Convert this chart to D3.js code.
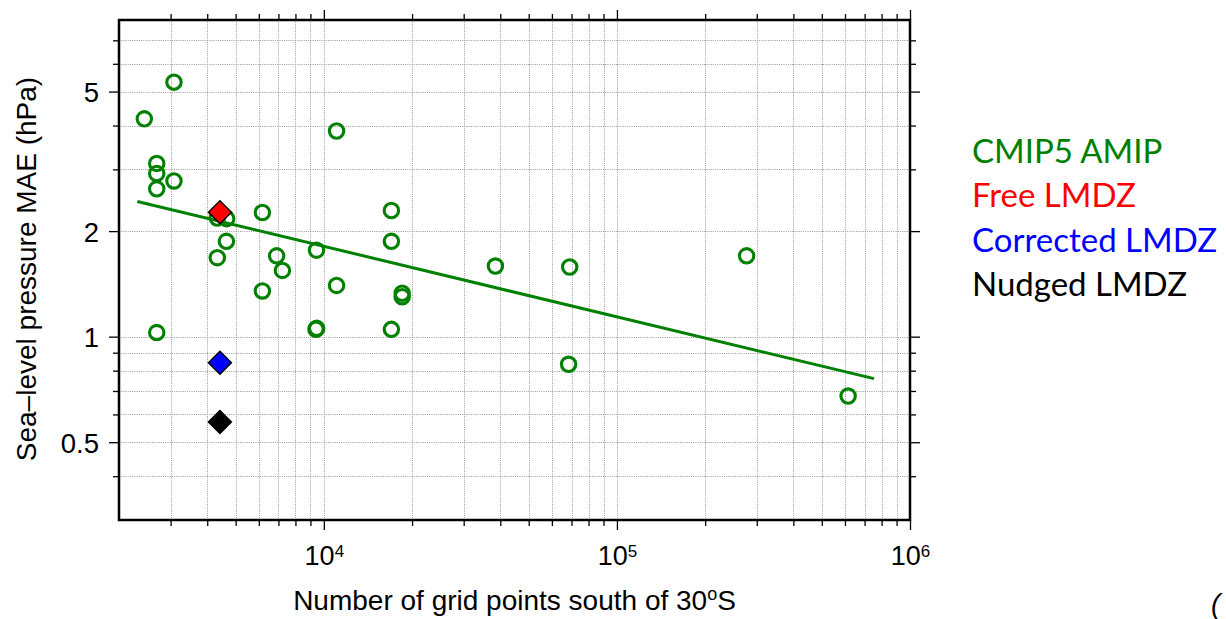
<!DOCTYPE html>
<html>
<head>
<meta charset="utf-8">
<script src="https://cdn.jsdelivr.net/npm/d3@7"></script>
<style>
  body { margin: 0; background: #fff; }
  svg { display: block; }
</style>
</head>
<body>
<script>
// CMIP5 AMIP models: grid points south of 30S vs sea-level pressure MAE
const cmipX = [3080, 2440, 2690, 2690, 2690, 3080, 4330, 4660, 4650, 4330,
               6170, 6900, 7220, 6170, 9440, 11050, 11050, 17000, 17000, 18500,
               18500, 2690, 9400, 9450, 17000, 38500, 69000, 277000, 68400, 615000];
const cmipY = [5.32, 4.18, 3.12, 2.92, 2.64, 2.78, 2.18, 2.17, 1.87, 1.68,
               2.26, 1.70, 1.545, 1.35, 1.765, 3.86, 1.40, 2.29, 1.87, 1.33,
               1.30, 1.027, 1.05, 1.056, 1.049, 1.59, 1.58, 1.70, 0.834, 0.677];

// LMDZ runs
const lmdzNames = ["Free LMDZ", "Corrected LMDZ", "Nudged LMDZ"];
const lmdzX = [4420, 4420, 4420];
const lmdzY = [2.265, 0.843, 0.571];

// fitted line end points
const fitX = [2310, 754000];
const fitY = [2.43, 0.759];

// axes
const xMajor = [1e4, 1e5, 1e6];
const xExp = [4, 5, 6];
const yMajor = [0.5, 1, 2, 5];
const yMajorLabels = ["0.5", "1", "2", "5"];
const yMinor = [0.4, 0.6, 0.7, 0.8, 0.9, 3, 4, 6, 7];

const legendLabels = ["CMIP5 AMIP", "Free LMDZ", "Corrected LMDZ", "Nudged LMDZ"];
const legendColors = ["#008000", "#ff0000", "#0000ff", "#000000"];

const width = 1226, height = 619;
const margin = { top: 20, right: 316, bottom: 99, left: 119 };
const plotW = width - margin.left - margin.right;
const plotH = height - margin.top - margin.bottom;
const font = "'Liberation Sans', Arial, sans-serif";

const svg = d3.select("body").append("svg")
    .attr("width", width)
    .attr("height", height);

svg.append("rect").attr("width", width).attr("height", height).attr("fill", "#fff");

const g = svg.append("g")
    .attr("transform", `translate(${margin.left},${margin.top})`);

const x = d3.scaleLog().domain([2000, 1e6]).range([0, plotW]);
const y = d3.scaleLog().domain([0.3, 8]).range([plotH, 0]);

// minor x ticks: 2..9 within each decade, inside the domain
const xMinor = [];
[1e3, 1e4, 1e5].forEach(d => {
    for (let k = 2; k <= 9; k++) {
        const v = d * k;
        if (v > 2000 && v < 1e6 && v !== 1e4 && v !== 1e5) xMinor.push(v);
    }
});

// grid
const grid = g.append("g").attr("class", "grid")
    .attr("stroke", "#9a9a9a")
    .attr("stroke-width", 1)
    .attr("stroke-dasharray", "1,1.2");

grid.selectAll(".vgrid")
    .data(xMinor.concat([1e4, 1e5]))
    .enter().append("line")
    .attr("x1", d => Math.round(x(d)) + 0.5)
    .attr("x2", d => Math.round(x(d)) + 0.5)
    .attr("y1", 0)
    .attr("y2", plotH);

grid.selectAll(".hgrid")
    .data(yMinor.concat(yMajor))
    .enter().append("line")
    .attr("x1", 0)
    .attr("x2", plotW)
    .attr("y1", d => Math.round(y(d)) + 0.5)
    .attr("y2", d => Math.round(y(d)) + 0.5);

// regression line
const line = d3.line().x(d => x(d[0])).y(d => y(d[1]));
g.append("path")
    .datum(d3.zip(fitX, fitY))
    .attr("d", line)
    .attr("fill", "none")
    .attr("stroke", "#008000")
    .attr("stroke-width", 3);

// CMIP5 circles
g.selectAll(".cmip")
    .data(d3.zip(cmipX, cmipY))
    .enter().append("circle")
    .attr("class", "cmip")
    .attr("cx", d => x(d[0]))
    .attr("cy", d => y(d[1]))
    .attr("r", 7.2)
    .attr("fill", "none")
    .attr("stroke", "#008000")
    .attr("stroke-width", 3.1);

// LMDZ diamonds
const diamond = d3.symbol().type(d3.symbolSquare).size(265);
g.selectAll(".lmdz")
    .data(lmdzNames)
    .enter().append("path")
    .attr("class", "lmdz")
    .attr("d", diamond)
    .attr("transform", (d, i) => `translate(${x(lmdzX[i])},${y(lmdzY[i])}) rotate(45)`)
    .attr("fill", (d, i) => legendColors[i + 1])
    .attr("stroke", "#000")
    .attr("stroke-width", 1.4);

// ticks on all four sides
function styleAxis(sel) {
    sel.select(".domain").remove();
    sel.selectAll(".tick line").attr("stroke", "#000").attr("stroke-width", 1.3);
}

g.append("g").attr("transform", `translate(0,${plotH})`)
    .call(d3.axisBottom(x).tickValues(xMinor).tickSize(6).tickFormat(""))
    .call(styleAxis);
const xb = g.append("g").attr("transform", `translate(0,${plotH})`)
    .call(d3.axisBottom(x).tickValues(xMajor).tickSize(10).tickFormat(""))
    .call(styleAxis);
g.append("g")
    .call(d3.axisTop(x).tickValues(xMinor).tickSize(6).tickFormat(""))
    .call(styleAxis);
g.append("g")
    .call(d3.axisTop(x).tickValues(xMajor).tickSize(10).tickFormat(""))
    .call(styleAxis);

g.append("g")
    .call(d3.axisLeft(y).tickValues(yMinor).tickSize(6).tickFormat(""))
    .call(styleAxis);
const yl = g.append("g")
    .call(d3.axisLeft(y).tickValues(yMajor).tickSize(10).tickFormat((d, i) => yMajorLabels[i]))
    .call(styleAxis);
g.append("g").attr("transform", `translate(${plotW},0)`)
    .call(d3.axisRight(y).tickValues(yMinor).tickSize(6).tickFormat(""))
    .call(styleAxis);
g.append("g").attr("transform", `translate(${plotW},0)`)
    .call(d3.axisRight(y).tickValues(yMajor).tickSize(10).tickFormat(""))
    .call(styleAxis);

yl.selectAll(".tick text")
    .attr("x", -20)
    .attr("dy", "0.36em")
    .style("font-family", font)
    .style("font-size", "27.5px")
    .attr("fill", "#000");

// x labels with superscript exponents
const xt = xb.selectAll(".tick").append("text")
    .attr("y", 45)
    .attr("text-anchor", "middle")
    .attr("fill", "#000")
    .style("font-family", font)
    .style("font-size", "27px");
xt.append("tspan").text("10");
xt.append("tspan")
    .attr("dy", -8)
    .style("font-size", "17px")
    .text((d, i) => xExp[i]);

// frame
g.append("rect")
    .attr("width", plotW)
    .attr("height", plotH)
    .attr("fill", "none")
    .attr("stroke", "#000")
    .attr("stroke-width", 2.5);

// axis titles
const xTitle = svg.append("text")
    .attr("x", margin.left + plotW / 2)
    .attr("y", 610)
    .attr("text-anchor", "middle")
    .style("font-family", font)
    .style("font-size", "28px")
    .attr("fill", "#000");
xTitle.append("tspan").text("Number of grid points south of 30");
xTitle.append("tspan").attr("dy", -10).style("font-size", "18px").text("o");
xTitle.append("tspan").attr("dy", 10).text("S");

svg.append("text")
    .attr("transform", `translate(36,${margin.top + plotH / 2 - 1}) rotate(-90)`)
    .attr("text-anchor", "middle")
    .style("font-family", font)
    .style("font-size", "28px")
    .attr("fill", "#000")
    .text("Sea\u2013level pressure MAE (hPa)");

// legend
svg.selectAll(".legend")
    .data(legendLabels)
    .enter().append("text")
    .attr("class", "legend")
    .attr("x", 972)
    .attr("y", (d, i) => 163 + i * 44.3)
    .attr("fill", (d, i) => legendColors[i])
    .style("font-family", "Lato, 'Open Sans', sans-serif")
    .style("font-size", "33px")
    .text(d => d);

// panel label, cut at the page edge
svg.append("text")
    .attr("x", 1211)
    .attr("y", 613)
    .style("font-family", font)
    .style("font-size", "28px")
    .style("font-style", "italic")
    .attr("fill", "#000")
    .text("(");
</script>
</body>
</html>
